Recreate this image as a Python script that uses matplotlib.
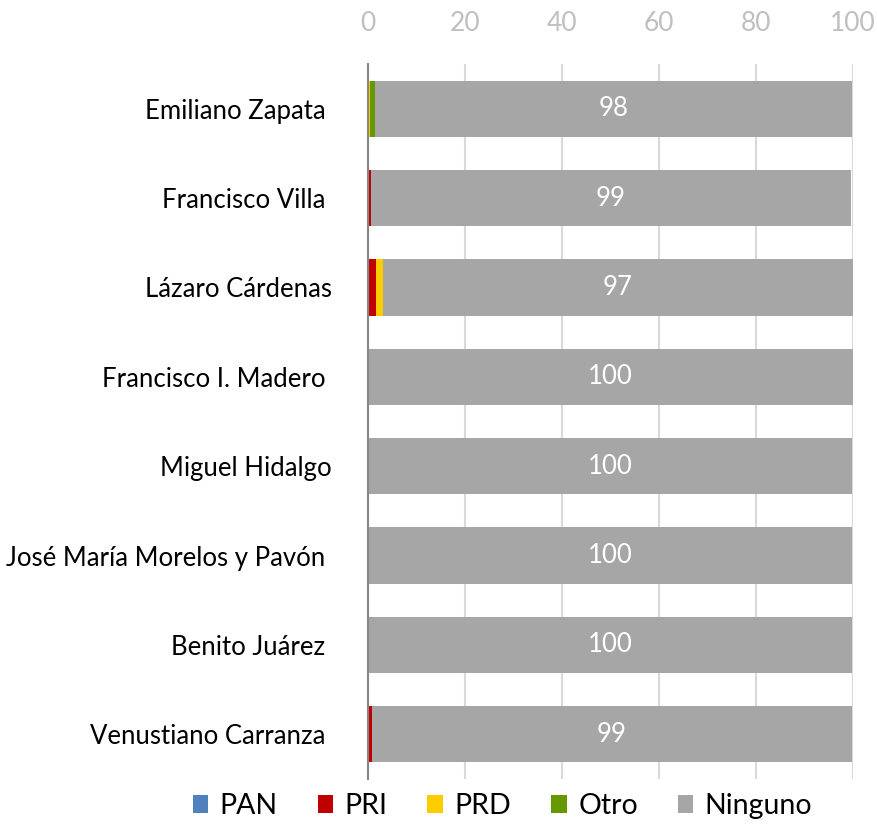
import matplotlib
matplotlib.use("Agg")
import matplotlib.pyplot as plt
from matplotlib.patches import Patch

plt.rcParams['font.family'] = ['Lato', 'DejaVu Sans']

categories = ["Emiliano Zapata ", "Francisco Villa ", "Lázaro Cárdenas",
              "Francisco I. Madero ", "Miguel Hidalgo",
              "José María Morelos y Pavón ", "Benito Juárez ",
              "Venustiano Carranza "]
series_names = ["PAN", "PRI", "PRD", "Otro", "Ninguno"]
PAN = [0, 0, 0, 0, 0, 0, 0, 0]
PRI = [0, 0.6, 1.7, 0, 0, 0, 0, 0.9]
PRD = [0.5, 0, 1.4, 0, 0, 0, 0, 0]
Otro = [0.9, 0, 0, 0, 0, 0, 0, 0]
Ninguno = [98.4, 99.0, 96.9, 99.9, 99.8, 99.8, 99.8, 98.8]
xticks = [0, 20, 40, 60, 80, 100]

colors = ["#4f81bd", "#c00000", "#ffcc00", "#669900", "#a6a6a6"]

fig = plt.figure(figsize=(8.77, 8.25), dpi=100)
ax = fig.add_axes([368/877, 1-779/825, (853-368)/877, (779-64)/825])

ypos = list(range(len(categories)))
left = [0]*len(categories)
series = [PAN, PRI, PRD, Otro, Ninguno]
for name, vals, c in zip(series_names, series, colors):
    bars = ax.barh(ypos, vals, left=left, height=0.63, color=c, zorder=3, label=name)
    if name == "Ninguno":
        for b, v in zip(bars, vals):
            ax.text(b.get_x() + b.get_width()/2, b.get_y() + b.get_height()/2,
                    f"{v:.0f}", ha='center', va='center', color='white',
                    fontsize=18.5, zorder=4)
    left = [l + v for l, v in zip(left, vals)]

ax.set_xlim(0, 100)
ax.set_ylim(len(categories) - 0.5, -0.5)
ax.set_xticks(xticks)
ax.set_xticklabels([str(t) for t in xticks])
ax.xaxis.tick_top()
ax.tick_params(axis='x', length=0, colors='#bfbfbf', labelsize=19, pad=20)
ax.set_yticks(ypos)
ax.set_yticklabels(categories)
ax.tick_params(axis='y', length=0, labelsize=18.5, pad=26, colors='black')
ax.grid(axis='x', color='#d9d9d9', linewidth=1.5, zorder=0)
ax.set_axisbelow(True)
for s in ['top', 'right', 'bottom']:
    ax.spines[s].set_visible(False)
ax.spines['left'].set_color('#868686')
ax.spines['left'].set_linewidth(1.5)
ax.spines['left'].set_zorder(5)

handles = [Patch(facecolor=c, edgecolor='none') for c in colors]
fig.legend(handles, series_names, loc='center', bbox_to_anchor=(0.573, 1-806/825),
           ncol=5, frameon=False, fontsize=20.5, handlelength=0.55, handleheight=0.55,
           handletextpad=0.4, columnspacing=1.4)

fig.savefig("out.png", dpi=100)
